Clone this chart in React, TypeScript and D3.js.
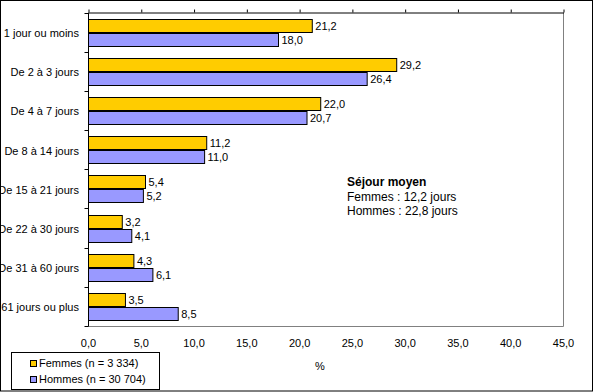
import React, { useEffect, useRef } from 'react';
import * as d3 from 'd3';

const categories = [
  '1 jour ou moins',
  'De 2 à 3 jours',
  'De 4 à 7 jours',
  'De 8 à 14 jours',
  'De 15 à 21 jours',
  'De 22 à 30 jours',
  'De 31 à 60 jours',
  '61 jours ou plus',
];
const femmes = [21.2, 29.2, 22.0, 11.2, 5.4, 3.2, 4.3, 3.5];
const hommes = [18.0, 26.4, 20.7, 11.0, 5.2, 4.1, 6.1, 8.5];
const xTicks = [0, 5, 10, 15, 20, 25, 30, 35, 40, 45];
const seriesNames = ['Femmes (n = 3 334)', 'Hommes (n = 30 704)'];
const seriesColors = ['#FFCC00', '#9999FF'];
const noteLines = ['Séjour moyen', 'Femmes : 12,2 jours', 'Hommes : 22,8 jours'];

const W = 593;
const H = 392;
const FONT = '"Liberation Sans", Arial, sans-serif';

const fmt = (v: number) => v.toFixed(1).replace('.', ',');

export default function App() {
  const svgRef = useRef<SVGSVGElement>(null);

  useEffect(() => {
    if (!svgRef.current) return;
    const svg = d3.select(svgRef.current);
    svg.selectAll('*').remove();

    const plot = { left: 88.5, right: 563.5, top: 12.5, bottom: 326 };

    const x = d3.scaleLinear().domain([0, 45]).range([plot.left, plot.right]);
    const y = d3.scaleBand<string>()
      .domain(categories)
      .range([plot.top, plot.bottom])
      .padding(0);
    const bw = y.bandwidth();
    const barH = 13;
    const gap = 1;
    const offset = (bw - (barH * 2 + gap)) / 2;

    // outer frame
    svg.append('rect')
      .attr('x', 0.5).attr('y', 0.5)
      .attr('width', W - 1).attr('height', H - 1.5)
      .attr('fill', '#fff').attr('stroke', '#000');

    // plot area border (right/bottom grey)
    svg.append('path')
      .attr('d', `M${plot.left},${plot.bottom + 0.5}H${plot.right}V${plot.top}`)
      .attr('fill', 'none').attr('stroke', '#808080');

    // bars
    const series = [femmes, hommes];
    series.forEach((vals, si) => {
      const g = svg.append('g');
      g.selectAll('rect')
        .data(vals)
        .enter()
        .append('rect')
        .attr('x', x(0))
        .attr('y', (_, i) => Math.round(y(categories[i])! + offset + si * (barH + gap)) + 0.5)
        .attr('width', d => x(d) - x(0))
        .attr('height', barH)
        .attr('fill', seriesColors[si])
        .attr('stroke', '#000');

      g.selectAll('text')
        .data(vals)
        .enter()
        .append('text')
        .attr('x', d => x(d) + 3)
        .attr('y', (_, i) => Math.round(y(categories[i])! + offset + si * (barH + gap)) + 0.5 + barH / 2)
        .attr('dy', '0.35em')
        .attr('font-family', FONT)
        .attr('font-size', 11)
        .text(d => fmt(d));
    });

    // top value axis (line + ticks only)
    svg.append('g')
      .attr('transform', `translate(0,${plot.top})`)
      .call(d3.axisTop(x).tickValues(xTicks).tickSize(3).tickSizeOuter(0).tickFormat(() => ''))
      .call(g => g.selectAll('line,path').attr('stroke', '#000'));

    // value tick labels at bottom
    svg.append('g')
      .selectAll('text')
      .data(xTicks)
      .enter()
      .append('text')
      .attr('x', d => x(d))
      .attr('y', 343)
      .attr('dy', '0.35em')
      .attr('text-anchor', 'middle')
      .attr('font-family', FONT)
      .attr('font-size', 11)
      .text(d => fmt(d));

    // category axis
    svg.append('line')
      .attr('x1', plot.left).attr('x2', plot.left)
      .attr('y1', plot.top).attr('y2', plot.bottom + 0.5)
      .attr('stroke', '#000');
    const bounds = [...categories.map(c => y(c)!), plot.bottom];
    svg.append('g')
      .selectAll('line')
      .data(bounds)
      .enter()
      .append('line')
      .attr('x1', plot.left - 4).attr('x2', plot.left)
      .attr('y1', d => Math.round(d) + 0.5).attr('y2', d => Math.round(d) + 0.5)
      .attr('stroke', '#000');
    svg.append('g')
      .selectAll('text')
      .data(categories)
      .enter()
      .append('text')
      .attr('x', 79)
      .attr('y', d => y(d)! + bw / 2 + 1)
      .attr('dy', '0.35em')
      .attr('text-anchor', 'end')
      .attr('font-family', FONT)
      .attr('font-size', 11)
      .text(d => d);

    // axis title
    svg.append('text')
      .attr('x', 320).attr('y', 366)
      .attr('dy', '0.35em')
      .attr('text-anchor', 'middle')
      .attr('font-family', FONT)
      .attr('font-size', 11)
      .text('%');

    // annotation
    svg.append('g')
      .selectAll('text')
      .data(noteLines)
      .enter()
      .append('text')
      .attr('x', 347)
      .attr('y', (_, i) => 186 + i * 14.5)
      .attr('font-family', FONT)
      .attr('font-size', 12)
      .attr('font-weight', (_, i) => (i === 0 ? 'bold' : 'normal'))
      .text(d => d);

    // legend
    const legend = svg.append('g');
    legend.append('rect')
      .attr('x', 11.5).attr('y', 352.5)
      .attr('width', 148).attr('height', 37)
      .attr('fill', '#fff').attr('stroke', '#000');
    seriesNames.forEach((name, i) => {
      const cy = 363 + i * 16.5;
      legend.append('rect')
        .attr('x', 30.5).attr('y', Math.round(cy - 3.5) + 0.5)
        .attr('width', 6).attr('height', 6)
        .attr('fill', seriesColors[i]).attr('stroke', '#000');
      legend.append('text')
        .attr('x', 39).attr('y', cy)
        .attr('dy', '0.35em')
        .attr('font-family', FONT)
        .attr('font-size', 11)
        .text(name);
    });
  }, []);

  return (
    <svg
      ref={svgRef}
      width={W}
      height={H}
      style={{ position: 'absolute', left: 0, top: 0, background: '#fff' }}
    />
  );
}
